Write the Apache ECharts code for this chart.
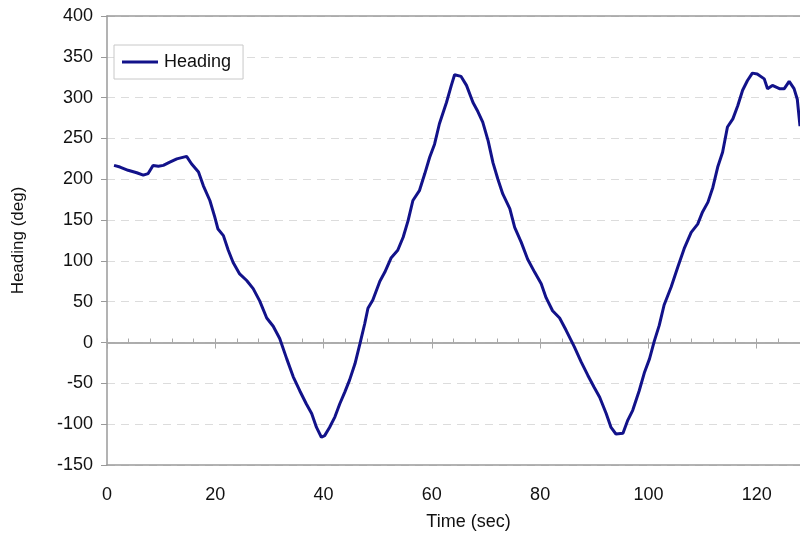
<!DOCTYPE html>
<html>
<head>
<meta charset="utf-8">
<script src="https://cdn.jsdelivr.net/npm/echarts@6/dist/echarts.min.js"></script>
<style>html,body{margin:0;padding:0;background:#fff;}#c{width:800px;height:538px;}</style>
</head>
<body>
<div id="c"></div>
<script>
var timeSec = [1.3, 2.4, 3.9, 5.5, 6.7, 7.6, 8.5, 9.5, 10.4, 11.6, 12.9, 14.7, 15.6, 16.9, 17.8, 19, 19.9, 20.5, 21.5, 22.4, 23.3, 24.5, 25.8, 27, 28.2, 29.5, 30.7, 31.9, 33.2, 34.4, 35.6, 36.8, 37.8, 38.7, 39.6, 40.2, 41.1, 42.1, 43, 43.9, 44.8, 45.8, 46.7, 47.6, 48.2, 49.1, 50.4, 51.3, 52.5, 53.7, 54.7, 55.6, 56.5, 57.7, 58.7, 59.6, 60.5, 61.4, 62.7, 63.6, 64.2, 65.4, 66.4, 67.6, 68.5, 69.4, 70.4, 71.3, 72.2, 73.1, 74.4, 75.3, 76.5, 77.7, 79, 80.2, 81.1, 82.3, 83.6, 84.8, 86.3, 87.6, 88.8, 90, 91, 92.2, 93.1, 94, 95.3, 96.2, 97.1, 98.3, 99.3, 100.2, 101.1, 102, 102.9, 104.2, 105.4, 106.6, 107.9, 109.1, 110, 111, 111.9, 112.8, 113.7, 114.6, 115.6, 116.5, 117.4, 118.3, 119.2, 120.1, 121.4, 122, 122.9, 124.2, 125.1, 126, 126.9, 127.5, 128];
var heading = [217, 215, 211, 208, 205, 207, 217, 216, 217, 221, 225, 228, 219, 209, 192, 174, 154, 139, 131, 113, 98, 84, 76, 66, 51, 30, 20, 5, -20, -42, -59, -75, -87, -104, -116, -114, -104, -91, -75, -61, -46, -26, -2, 23, 42, 52, 75, 86, 104, 113, 129, 149, 174, 186, 207, 227, 243, 268, 294, 315, 328, 326, 315, 294, 283, 270, 247, 220, 200, 182, 164, 141, 123, 102, 86, 72, 55, 39, 30, 15, -5, -24, -40, -55, -67, -87, -104, -112, -111, -95, -83, -59, -36, -20, 2, 21, 46, 68, 92, 115, 135, 145, 160, 172, 190, 215, 233, 264, 274, 290, 309, 321, 330, 329, 323, 311, 315, 311, 311, 320, 311, 298, 265];
var xTicks = {min: 0, max: 128, major: 20, minor: 4};
var yTicks = {min: -150, max: 400, step: 50};
var seriesName = 'Heading';

var data = timeSec.map(function (t, i) { return [t, heading[i]]; });
var font = 'Liberation Sans, Arial, sans-serif';
var gridRect = {left: 107, right: 0, top: 16, height: 449, containLabel: false};
var axisGrey = '#9a9a9a';
var zeroGrey = '#a8a8a8';

function hiddenY(idx) {
  return {type: 'value', gridIndex: idx, min: yTicks.min, max: yTicks.max, interval: yTicks.step, show: false};
}
function zeroX(idx, interval, inside, len) {
  return {
    type: 'value', gridIndex: idx, min: xTicks.min, max: xTicks.max, interval: interval,
    position: 'bottom', z: 5,
    axisLine: {show: true, onZero: true, lineStyle: {color: zeroGrey, width: 1.5}},
    axisTick: {show: true, inside: inside, length: len, lineStyle: {color: zeroGrey}},
    axisLabel: {show: false}, splitLine: {show: false}
  };
}

var chart = echarts.init(document.getElementById('c'));
chart.setOption({
  backgroundColor: '#fff',
  animation: false,
  grid: [gridRect, gridRect, gridRect],
  legend: {
    left: 114, top: 45,
    data: [{name: seriesName, icon: 'rect'}],
    padding: [8, 12, 8, 8],
    itemWidth: 36, itemHeight: 3, itemGap: 6,
    borderColor: '#c8c8c8', borderWidth: 1, backgroundColor: '#fff',
    textStyle: {fontFamily: font, fontSize: 18, color: '#111', padding: [0, 0, 0, 1]}
  },
  xAxis: [
    {
      type: 'value', gridIndex: 0, min: xTicks.min, max: xTicks.max, interval: xTicks.major,
      position: 'bottom', z: 5,
      name: 'Time (sec)', nameLocation: 'middle', nameGap: 48,
      nameTextStyle: {fontFamily: font, fontSize: 18, color: '#111', padding: [0, 0, 0, 30]},
      axisLine: {onZero: false, lineStyle: {color: axisGrey, width: 1.5}},
      axisTick: {show: false},
      axisLabel: {fontFamily: font, fontSize: 18, color: '#111', margin: 21, showMaxLabel: false,
        formatter: function (v) { return v % xTicks.major === 0 ? String(v) : ''; }},
      splitLine: {show: false}
    },
    {
      type: 'value', gridIndex: 0, min: xTicks.min, max: xTicks.max, interval: xTicks.major,
      position: 'top', z: 5,
      axisLine: {onZero: false, lineStyle: {color: axisGrey, width: 1.5}},
      axisTick: {show: false}, axisLabel: {show: false}, splitLine: {show: false}
    },
    zeroX(1, xTicks.minor, true, 4),
    zeroX(2, xTicks.major, false, 6)
  ],
  yAxis: [
    {
      type: 'value', gridIndex: 0, min: yTicks.min, max: yTicks.max, interval: yTicks.step,
      name: 'Heading (deg)', nameLocation: 'middle', nameGap: 80,
      nameTextStyle: {fontFamily: font, fontSize: 17, color: '#111'},
      axisLine: {show: true, onZero: false, lineStyle: {color: axisGrey, width: 1.5}},
      axisTick: {show: true, length: 6, lineStyle: {color: axisGrey}},
      axisLabel: {fontFamily: font, fontSize: 18, color: '#111', margin: 14},
      splitLine: {show: true, lineStyle: {color: '#dcdcdc', type: [8, 6], width: 1}}
    },
    hiddenY(1),
    hiddenY(2)
  ],
  series: [{
    name: seriesName, type: 'line', data: data, xAxisIndex: 0, yAxisIndex: 0,
    symbol: 'none', smooth: false, z: 10,
    lineStyle: {color: '#12128a', width: 3},
    itemStyle: {color: '#12128a'}
  }]
});
</script>
</body>
</html>
